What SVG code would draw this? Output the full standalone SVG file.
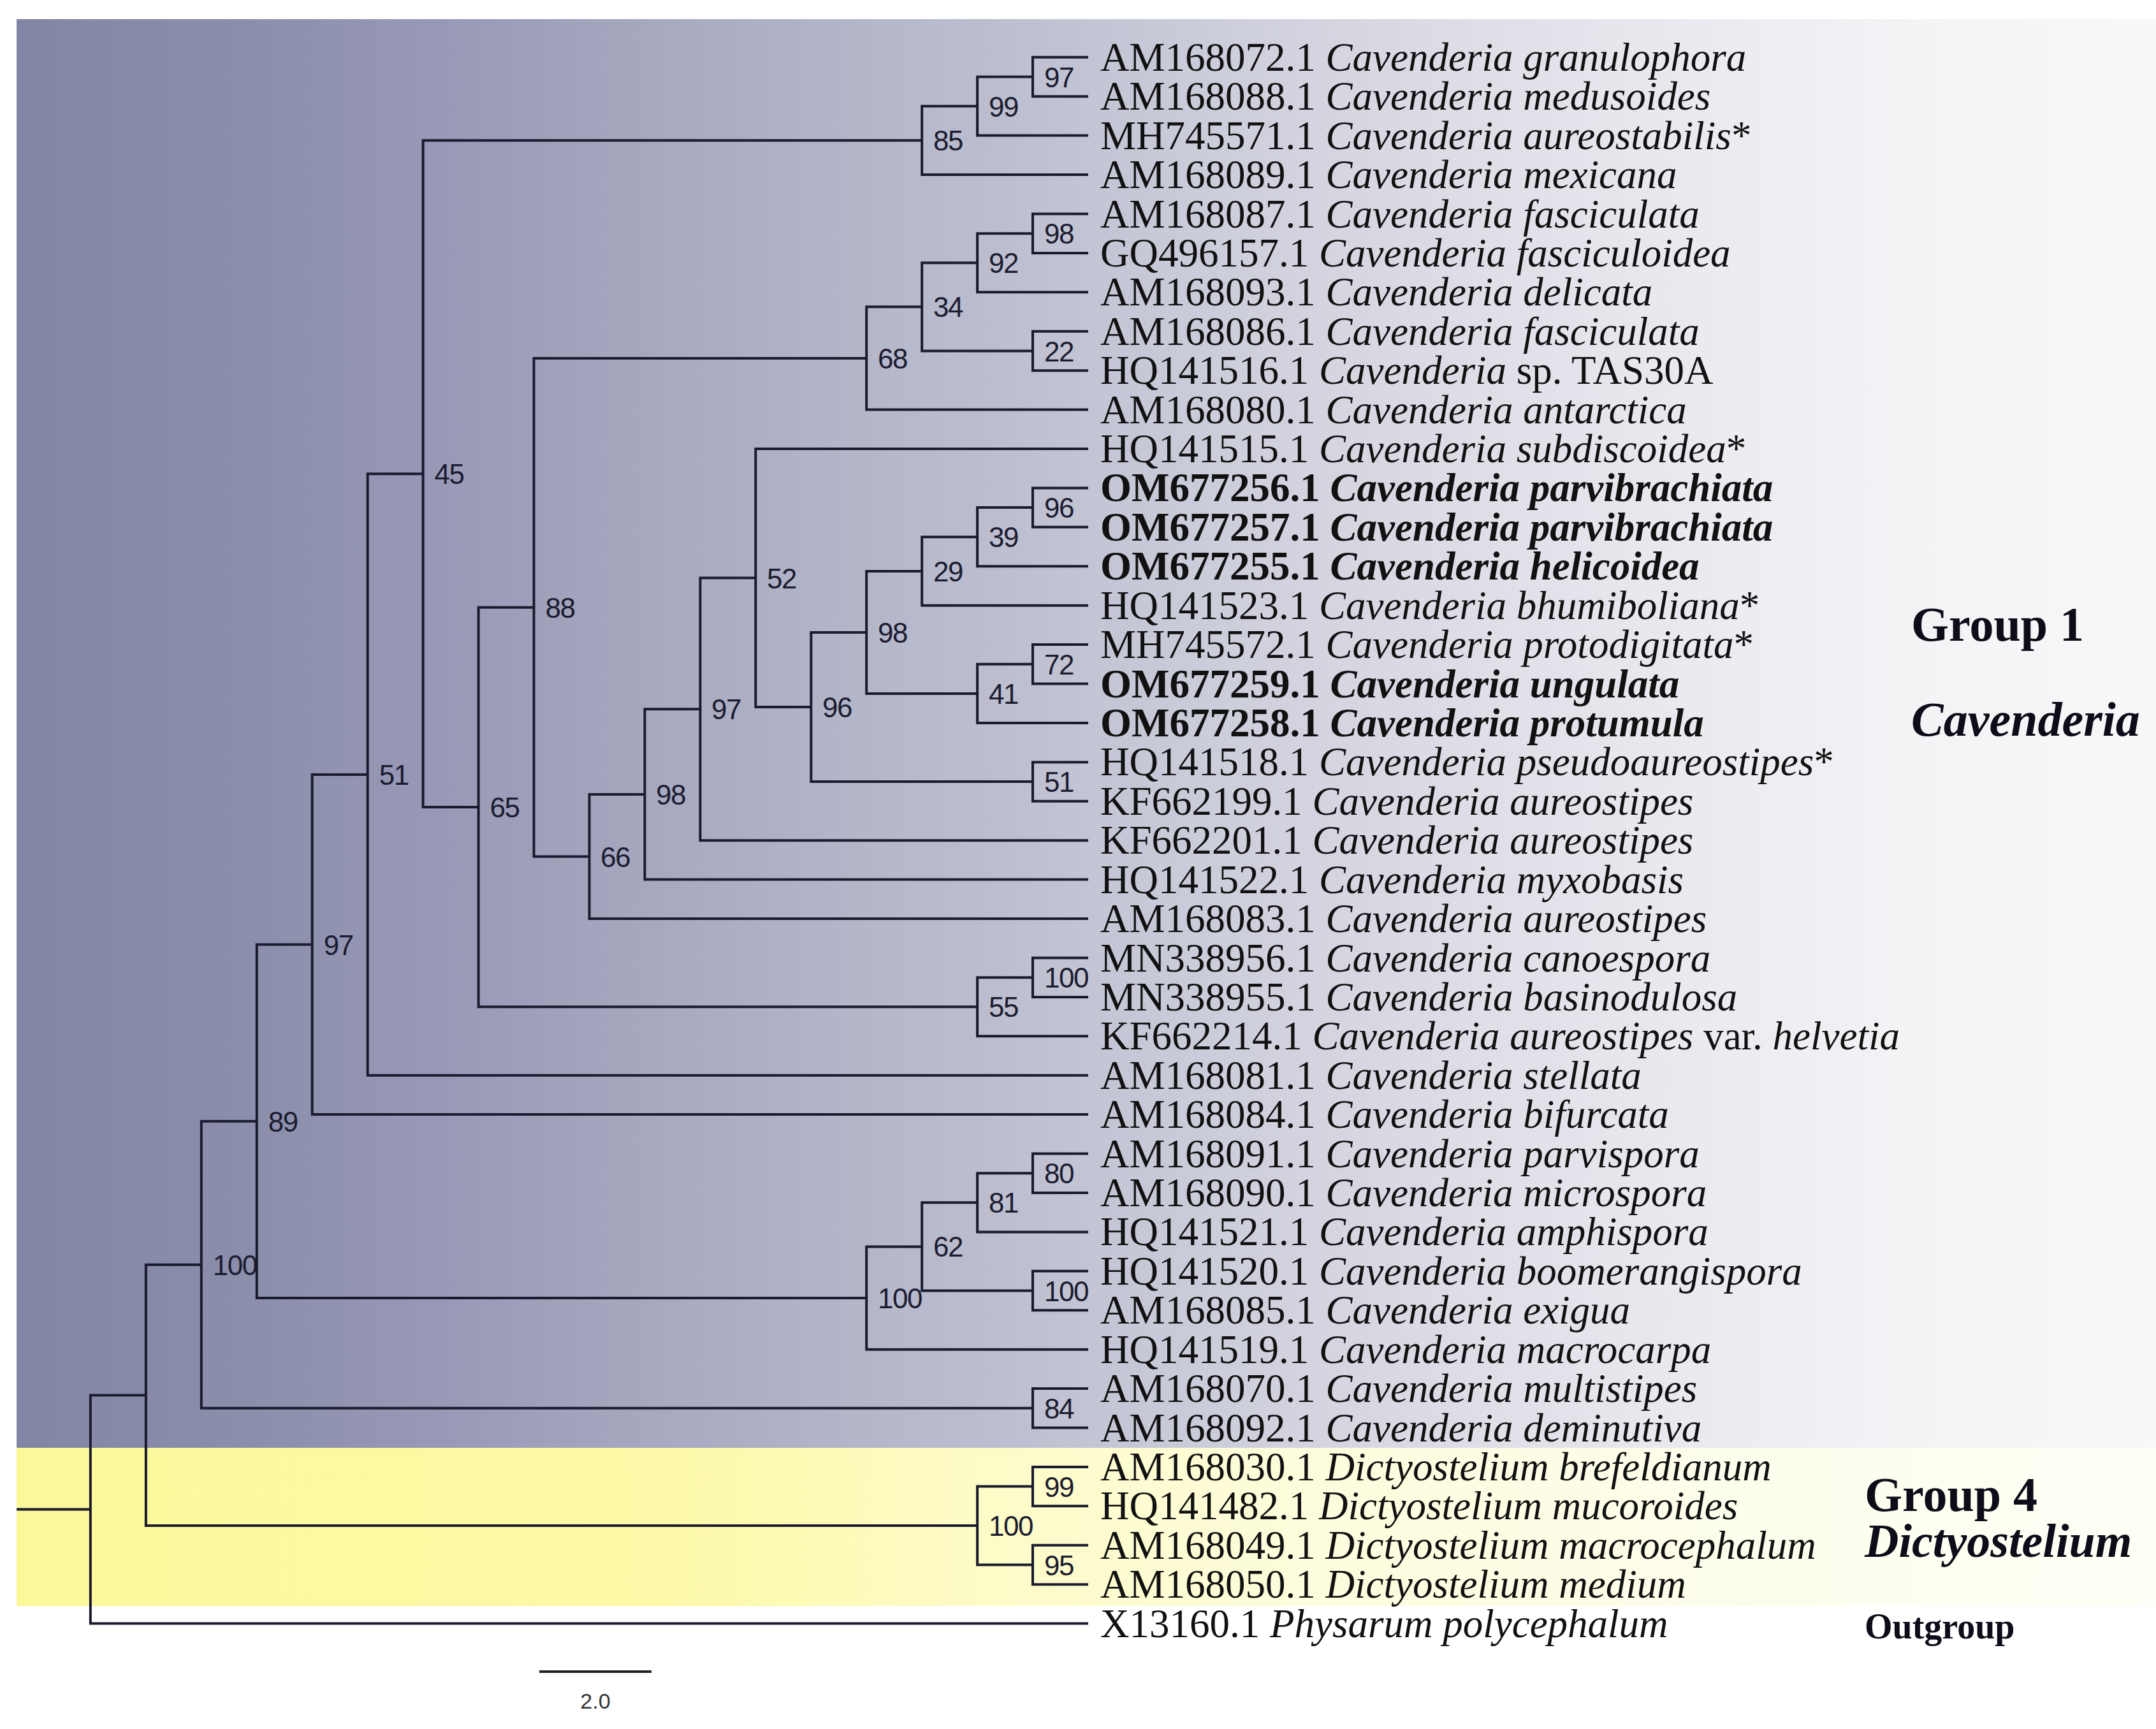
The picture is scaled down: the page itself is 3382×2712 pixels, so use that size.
<svg xmlns="http://www.w3.org/2000/svg" width="3382" height="2712" viewBox="0 0 3382 2712">
<defs>
<linearGradient id="gBlue" x1="0" y1="0" x2="1" y2="0">
<stop offset="0" stop-color="#8286a4"/>
<stop offset="0.1" stop-color="#8a8eab"/>
<stop offset="0.2" stop-color="#9899b6"/>
<stop offset="0.3" stop-color="#a7a9c0"/>
<stop offset="0.45" stop-color="#bbbdcf"/>
<stop offset="0.6" stop-color="#d2d3de"/>
<stop offset="0.75" stop-color="#e6e7ed"/>
<stop offset="0.88" stop-color="#f3f3f6"/>
<stop offset="1" stop-color="#f8f8f9"/>
</linearGradient>
<linearGradient id="gYellow" x1="0" y1="0" x2="1" y2="0">
<stop offset="0" stop-color="#fbf89a"/>
<stop offset="0.3" stop-color="#fcf9a8"/>
<stop offset="0.45" stop-color="#fdfbc6"/>
<stop offset="0.6" stop-color="#fdfcdc"/>
<stop offset="0.8" stop-color="#fdfdec"/>
<stop offset="1" stop-color="#fefef6"/>
</linearGradient>
<style>
.lf{font-family:"Liberation Serif","Times New Roman",serif;font-size:63px;fill:#111}
.bd{font-weight:bold}
.it{font-style:italic}
.bs{font-family:"Liberation Sans",Arial,sans-serif;font-size:44px;fill:#1c1c30;letter-spacing:-1.5px}
.br{fill:none;stroke:#1b1b2f;stroke-width:4;stroke-linejoin:miter}
.grp{font-family:"Liberation Serif","Times New Roman",serif;font-weight:bold;fill:#0d0d1a}
</style>
</defs>
<rect width="3382" height="2712" fill="#ffffff"/>
<g id="background">
<rect x="26" y="30" width="3356" height="2241" fill="url(#gBlue)"/>
<rect x="26" y="2271" width="3356" height="248" fill="url(#gYellow)"/>
</g>
<g id="connectors" class="br">
<path d="M1707 89.8 H1620 V151.2 H1707"/>
<path d="M1620 120.5 H1533.1 V212.6 H1707"/>
<path d="M1533.1 166.6 H1446.2 V274.1 H1707"/>
<path d="M1707 335.5 H1620 V396.9 H1707"/>
<path d="M1620 366.2 H1533.1 V458.3 H1707"/>
<path d="M1707 519.7 H1620 V581.2 H1707"/>
<path d="M1533.1 412.3 H1446.2 V550.5 H1620"/>
<path d="M1446.2 481.3 H1359.2 V642.6 H1707"/>
<path d="M1707 765.4 H1620 V826.8 H1707"/>
<path d="M1620 796.1 H1533.1 V888.3 H1707"/>
<path d="M1533.1 842.2 H1446.2 V949.7 H1707"/>
<path d="M1707 1011.1 H1620 V1072.5 H1707"/>
<path d="M1620 1041.8 H1533.1 V1133.9 H1707"/>
<path d="M1446.2 895.9 H1359.2 V1087.9 H1533.1"/>
<path d="M1707 1195.4 H1620 V1256.8 H1707"/>
<path d="M1359.2 991.9 H1272.3 V1226.1 H1620"/>
<path d="M1707 704 H1185.3 V1109 H1272.3"/>
<path d="M1185.3 906.5 H1098.4 V1318.2 H1707"/>
<path d="M1098.4 1112.3 H1011.4 V1379.6 H1707"/>
<path d="M1011.4 1246 H924.5 V1441 H1707"/>
<path d="M1359.2 562 H837.5 V1343.5 H924.5"/>
<path d="M1707 1502.5 H1620 V1563.9 H1707"/>
<path d="M1620 1533.2 H1533.1 V1625.3 H1707"/>
<path d="M837.5 952.7 H750.6 V1579.2 H1533.1"/>
<path d="M1446.2 220.3 H663.6 V1266 H750.6"/>
<path d="M663.6 743.2 H576.7 V1686.7 H1707"/>
<path d="M576.7 1214.9 H489.7 V1748.1 H1707"/>
<path d="M1707 1809.6 H1620 V1871 H1707"/>
<path d="M1620 1840.3 H1533.1 V1932.4 H1707"/>
<path d="M1707 1993.8 H1620 V2055.2 H1707"/>
<path d="M1533.1 1886.3 H1446.2 V2024.5 H1620"/>
<path d="M1446.2 1955.4 H1359.2 V2116.7 H1707"/>
<path d="M489.7 1481.5 H402.8 V2036.1 H1359.2"/>
<path d="M1707 2178.1 H1620 V2239.5 H1707"/>
<path d="M402.8 1758.8 H315.8 V2208.8 H1620"/>
<path d="M1707 2300.9 H1620 V2362.3 H1707"/>
<path d="M1707 2423.8 H1620 V2485.2 H1707"/>
<path d="M1620 2331.6 H1533.1 V2454.5 H1620"/>
<path d="M315.8 1983.8 H228.9 V2393.1 H1533.1"/>
<path d="M228.9 2188.4 H141.9 V2546.6 H1707"/>
<path d="M26 2367.5 H141.9"/>
</g>
<g id="support-values" class="bs">
<g id="n-97a"><text x="1638" y="136.5">97</text></g>
<g id="n-99a"><text x="1551" y="182.6">99</text></g>
<g id="n-85"><text x="1464" y="236.3">85</text></g>
<g id="n-98a"><text x="1638" y="382.2">98</text></g>
<g id="n-92"><text x="1551" y="428.3">92</text></g>
<g id="n-34"><text x="1464" y="497.3">34</text></g>
<g id="n-22"><text x="1638" y="566.5">22</text></g>
<g id="n-68"><text x="1377" y="578">68</text></g>
<g id="n-96a"><text x="1638" y="812.1">96</text></g>
<g id="n-39"><text x="1551" y="858.2">39</text></g>
<g id="n-29"><text x="1464" y="911.9">29</text></g>
<g id="n-98b"><text x="1377" y="1007.9">98</text></g>
<g id="n-72"><text x="1638" y="1057.8">72</text></g>
<g id="n-41"><text x="1551" y="1103.9">41</text></g>
<g id="n-96b"><text x="1290" y="1125">96</text></g>
<g id="n-52"><text x="1203" y="922.5">52</text></g>
<g id="n-51a"><text x="1638" y="1242.1">51</text></g>
<g id="n-97b"><text x="1116" y="1128.3">97</text></g>
<g id="n-98c"><text x="1029" y="1262">98</text></g>
<g id="n-66"><text x="942" y="1359.5">66</text></g>
<g id="n-88"><text x="855.5" y="968.7">88</text></g>
<g id="n-100a"><text x="1638" y="1549.2">100</text></g>
<g id="n-55"><text x="1551" y="1595.2">55</text></g>
<g id="n-65"><text x="768.5" y="1282">65</text></g>
<g id="n-45"><text x="681.6" y="759.2">45</text></g>
<g id="n-51b"><text x="594.7" y="1230.9">51</text></g>
<g id="n-97c"><text x="507.7" y="1497.5">97</text></g>
<g id="n-80"><text x="1638" y="1856.3">80</text></g>
<g id="n-81"><text x="1551" y="1902.3">81</text></g>
<g id="n-100b"><text x="1638" y="2040.5">100</text></g>
<g id="n-62"><text x="1464" y="1971.4">62</text></g>
<g id="n-100c"><text x="1377" y="2052.1">100</text></g>
<g id="n-89"><text x="420.8" y="1774.8">89</text></g>
<g id="n-84"><text x="1638" y="2224.8">84</text></g>
<g id="n-100d"><text x="333.8" y="1999.8">100</text></g>
<g id="n-99b"><text x="1638" y="2347.6">99</text></g>
<g id="n-95"><text x="1638" y="2470.5">95</text></g>
<g id="n-100e"><text x="1551" y="2409.1">100</text></g>
</g>
<g id="leaves" class="lf">
<g id="leaf-AM168072"><text x="1726" y="110.8">AM168072.1 <tspan class="it">Cavenderia granulophora</tspan></text></g>
<g id="leaf-AM168088"><text x="1726" y="172.2">AM168088.1 <tspan class="it">Cavenderia medusoides</tspan></text></g>
<g id="leaf-MH745571"><text x="1726" y="233.6">MH745571.1 <tspan class="it">Cavenderia aureostabilis</tspan>*</text></g>
<g id="leaf-AM168089"><text x="1726" y="295.1">AM168089.1 <tspan class="it">Cavenderia mexicana</tspan></text></g>
<g id="leaf-AM168087"><text x="1726" y="356.5">AM168087.1 <tspan class="it">Cavenderia fasciculata</tspan></text></g>
<g id="leaf-GQ496157"><text x="1726" y="417.9">GQ496157.1 <tspan class="it">Cavenderia fasciculoidea</tspan></text></g>
<g id="leaf-AM168093"><text x="1726" y="479.3">AM168093.1 <tspan class="it">Cavenderia delicata</tspan></text></g>
<g id="leaf-AM168086"><text x="1726" y="540.7">AM168086.1 <tspan class="it">Cavenderia fasciculata</tspan></text></g>
<g id="leaf-HQ141516"><text x="1726" y="602.2">HQ141516.1 <tspan class="it">Cavenderia</tspan> sp. TAS30A</text></g>
<g id="leaf-AM168080"><text x="1726" y="663.6">AM168080.1 <tspan class="it">Cavenderia antarctica</tspan></text></g>
<g id="leaf-HQ141515"><text x="1726" y="725">HQ141515.1 <tspan class="it">Cavenderia subdiscoidea</tspan>*</text></g>
<g id="leaf-OM677256"><text class="bd" x="1726" y="786.4">OM677256.1 <tspan class="it">Cavenderia parvibrachiata</tspan></text></g>
<g id="leaf-OM677257"><text class="bd" x="1726" y="847.8">OM677257.1 <tspan class="it">Cavenderia parvibrachiata</tspan></text></g>
<g id="leaf-OM677255"><text class="bd" x="1726" y="909.3">OM677255.1 <tspan class="it">Cavenderia helicoidea</tspan></text></g>
<g id="leaf-HQ141523"><text x="1726" y="970.7">HQ141523.1 <tspan class="it">Cavenderia bhumiboliana</tspan>*</text></g>
<g id="leaf-MH745572"><text x="1726" y="1032.1">MH745572.1 <tspan class="it">Cavenderia protodigitata</tspan>*</text></g>
<g id="leaf-OM677259"><text class="bd" x="1726" y="1093.5">OM677259.1 <tspan class="it">Cavenderia ungulata</tspan></text></g>
<g id="leaf-OM677258"><text class="bd" x="1726" y="1154.9">OM677258.1 <tspan class="it">Cavenderia protumula</tspan></text></g>
<g id="leaf-HQ141518"><text x="1726" y="1216.4">HQ141518.1 <tspan class="it">Cavenderia pseudoaureostipes</tspan>*</text></g>
<g id="leaf-KF662199"><text x="1726" y="1277.8">KF662199.1 <tspan class="it">Cavenderia aureostipes</tspan></text></g>
<g id="leaf-KF662201"><text x="1726" y="1339.2">KF662201.1 <tspan class="it">Cavenderia aureostipes</tspan></text></g>
<g id="leaf-HQ141522"><text x="1726" y="1400.6">HQ141522.1 <tspan class="it">Cavenderia myxobasis</tspan></text></g>
<g id="leaf-AM168083"><text x="1726" y="1462">AM168083.1 <tspan class="it">Cavenderia aureostipes</tspan></text></g>
<g id="leaf-MN338956"><text x="1726" y="1523.5">MN338956.1 <tspan class="it">Cavenderia canoespora</tspan></text></g>
<g id="leaf-MN338955"><text x="1726" y="1584.9">MN338955.1 <tspan class="it">Cavenderia basinodulosa</tspan></text></g>
<g id="leaf-KF662214"><text x="1726" y="1646.3">KF662214.1 <tspan class="it">Cavenderia aureostipes</tspan> var. <tspan class="it">helvetia</tspan></text></g>
<g id="leaf-AM168081"><text x="1726" y="1707.7">AM168081.1 <tspan class="it">Cavenderia stellata</tspan></text></g>
<g id="leaf-AM168084"><text x="1726" y="1769.1">AM168084.1 <tspan class="it">Cavenderia bifurcata</tspan></text></g>
<g id="leaf-AM168091"><text x="1726" y="1830.6">AM168091.1 <tspan class="it">Cavenderia parvispora</tspan></text></g>
<g id="leaf-AM168090"><text x="1726" y="1892">AM168090.1 <tspan class="it">Cavenderia microspora</tspan></text></g>
<g id="leaf-HQ141521"><text x="1726" y="1953.4">HQ141521.1 <tspan class="it">Cavenderia amphispora</tspan></text></g>
<g id="leaf-HQ141520"><text x="1726" y="2014.8">HQ141520.1 <tspan class="it">Cavenderia boomerangispora</tspan></text></g>
<g id="leaf-AM168085"><text x="1726" y="2076.2">AM168085.1 <tspan class="it">Cavenderia exigua</tspan></text></g>
<g id="leaf-HQ141519"><text x="1726" y="2137.7">HQ141519.1 <tspan class="it">Cavenderia macrocarpa</tspan></text></g>
<g id="leaf-AM168070"><text x="1726" y="2199.1">AM168070.1 <tspan class="it">Cavenderia multistipes</tspan></text></g>
<g id="leaf-AM168092"><text x="1726" y="2260.5">AM168092.1 <tspan class="it">Cavenderia deminutiva</tspan></text></g>
<g id="leaf-AM168030"><text x="1726" y="2321.9">AM168030.1 <tspan class="it">Dictyostelium brefeldianum</tspan></text></g>
<g id="leaf-HQ141482"><text x="1726" y="2383.3">HQ141482.1 <tspan class="it">Dictyostelium mucoroides</tspan></text></g>
<g id="leaf-AM168049"><text x="1726" y="2444.8">AM168049.1 <tspan class="it">Dictyostelium macrocephalum</tspan></text></g>
<g id="leaf-AM168050"><text x="1726" y="2506.2">AM168050.1 <tspan class="it">Dictyostelium medium</tspan></text></g>
<g id="leaf-X13160"><text x="1726" y="2567.6">X13160.1 <tspan class="it">Physarum polycephalum</tspan></text></g>
</g>
<g id="group-labels" class="grp">
<g id="label-group1"><text x="2998" y="1005" font-size="76">Group 1</text><text x="2998" y="1154" font-size="76" font-style="italic">Cavenderia</text></g>
<g id="label-group4"><text x="2925" y="2370" font-size="76">Group 4</text><text x="2925" y="2442" font-size="74" font-style="italic">Dictyostelium</text></g>
<g id="label-outgroup"><text x="2925" y="2570" font-size="56">Outgroup</text></g>
</g>
<g id="scale-bar">
<path d="M846 2622 H1022" stroke="#222" stroke-width="4" fill="none"/>
<text x="934" y="2680" text-anchor="middle" font-family="Liberation Sans, Arial, sans-serif" font-size="34" fill="#333">2.0</text>
</g>
</svg>
